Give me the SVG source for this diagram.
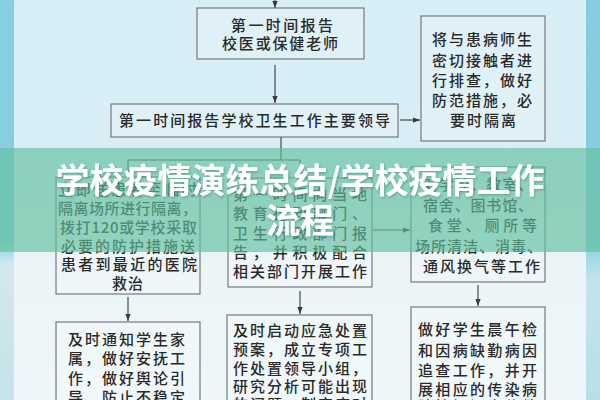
<svg xmlns="http://www.w3.org/2000/svg" width="600" height="400" viewBox="0 0 600 400">
<defs>
<linearGradient id="panel" x1="0" y1="0" x2="0" y2="1">
<stop offset="0" stop-color="#d8eef6"/>
<stop offset="0.38" stop-color="#d9eff6"/>
<stop offset="0.65" stop-color="#ebf5f8"/>
<stop offset="1" stop-color="#eef7f9"/>
</linearGradient>
<linearGradient id="lstrip" x1="0" y1="0" x2="0" y2="1">
<stop offset="0" stop-color="#88cde2"/>
<stop offset="0.6" stop-color="#8acde0"/>
<stop offset="0.66" stop-color="#d2e8ee"/>
<stop offset="1" stop-color="#c6e2ea"/>
</linearGradient>
<linearGradient id="rstrip" x1="0" y1="0" x2="0" y2="1">
<stop offset="0" stop-color="#86cde3"/>
<stop offset="0.6" stop-color="#88cee2"/>
<stop offset="0.7" stop-color="#c4e4ec"/>
<stop offset="1" stop-color="#b8dfe8"/>
</linearGradient>
<marker id="ah" viewBox="0 0 8 8" refX="8" refY="4" markerWidth="7" markerHeight="7" markerUnits="userSpaceOnUse" orient="auto">
<path d="M0,1 L8,4 L0,7 z" fill="#3a3a3a"/>
</marker>
<filter id="sh" x="-5%" y="-20%" width="110%" height="140%">
<feDropShadow dx="1" dy="1.5" stdDeviation="1" flood-color="#1d5a4c" flood-opacity="0.35"/>
</filter>
</defs>
<style>
.box{fill:#ffffff;fill-opacity:0.18;stroke:#6e6e6e;stroke-width:1.1}
.t{font-family:"Noto Sans CJK SC","Noto Sans",sans-serif;font-size:15px;font-weight:500;fill:#2a2a2a}
.c{fill:none;stroke:#3a3a3a;stroke-width:1.1}
.ttl{font-family:"Noto Sans CJK SC","Noto Sans",sans-serif;font-size:34px;font-weight:bold;fill:#ffffff}
</style>
<rect x="0" y="0" width="600" height="400" fill="url(#panel)"/>
<rect x="0" y="0" width="14" height="400" fill="url(#lstrip)"/>
<rect x="586" y="0" width="14" height="400" fill="url(#rstrip)"/>

<g id="connectors">
<path class="c" d="M275,0 L275,8" marker-end="url(#ah)"/>
<path class="c" d="M275,65 L275,103" marker-end="url(#ah)"/>
<path class="c" d="M400,120 L420,120" marker-end="url(#ah)"/>
<path class="c" d="M281,137 L281,160 M128,160 L300,160"/>
<path class="c" d="M128,160 L128,177" marker-end="url(#ah)"/>
<path class="c" d="M300,160 L300,177" marker-end="url(#ah)"/>
<path class="c" d="M373,230 L410,230" marker-end="url(#ah)"/>
<path class="c" d="M128,297 L128,321" marker-end="url(#ah)"/>
<path class="c" d="M300,291 L300,314" marker-end="url(#ah)"/>
<path class="c" d="M478,285 L478,306" marker-end="url(#ah)"/>
</g>

<g id="node-report-doctor">
<rect class="box" x="197" y="8" width="167" height="51"/>
<text class="t" x="231" y="30.5" textLength="102" lengthAdjust="spacing">第一时间报告</text>
<text class="t" x="222" y="48.5" textLength="116" lengthAdjust="spacing">校医或保健老师</text>
</g>

<g id="node-report-leader">
<rect class="box" x="111" y="104" width="287" height="33"/>
<text class="t" x="119" y="125.5" textLength="271" lengthAdjust="spacing">第一时间报告学校卫生工作主要领导</text>
</g>

<g id="node-contacts">
<rect class="box" x="421" y="16" width="124" height="125"/>
<text class="t" x="432" y="44.5" textLength="100" lengthAdjust="spacing">将与患病师生</text>
<text class="t" x="432" y="65.5" textLength="100" lengthAdjust="spacing">密切接触者进</text>
<text class="t" x="432" y="85.5" textLength="100" lengthAdjust="spacing">行排查，做好</text>
<text class="t" x="432" y="105.5" textLength="100" lengthAdjust="spacing">防范措施，必</text>
<text class="t" x="450" y="125.5" textLength="66" lengthAdjust="spacing">要时隔离</text>
</g>

<g id="node-isolate">
<rect class="box" x="56" y="177" width="144" height="117"/>
<text class="t" x="58" y="194.5" textLength="139" lengthAdjust="spacing">立即送患者至临时</text>
<text class="t" x="58" y="213.5" textLength="139" lengthAdjust="spacing">隔离场所进行隔离，</text>
<text class="t" x="60" y="232.5" textLength="137" lengthAdjust="spacing">拨打120或学校采取</text>
<text class="t" x="61" y="251.5" textLength="134" lengthAdjust="spacing">必要的防护措施送</text>
<text class="t" x="61" y="269.5" textLength="136" lengthAdjust="spacing">患者到最近的医院</text>
<text class="t" x="112" y="288.5" textLength="31" lengthAdjust="spacing">救治</text>
</g>

<g id="node-report-authority">
<rect class="box" x="228" y="178" width="144" height="109"/>
<text class="t" x="233" y="199.5" textLength="134" lengthAdjust="spacing">第一时间向当地</text>
<text class="t" x="233" y="218.5" textLength="134" lengthAdjust="spacing">教育行政部门、</text>
<text class="t" x="233" y="238.5" textLength="134" lengthAdjust="spacing">卫生行政部门报</text>
<text class="t" x="233" y="257.5" textLength="134" lengthAdjust="spacing">告，并积极配合</text>
<text class="t" x="233" y="276.5" textLength="134" lengthAdjust="spacing">相关部门开展工作</text>
</g>

<g id="node-disinfect">
<rect class="box" x="411" y="167" width="134" height="115"/>
<text class="t" x="423" y="189.5" textLength="110" lengthAdjust="spacing">对学校、教室、</text>
<text class="t" x="423" y="210.5" textLength="110" lengthAdjust="spacing">宿舍、图书馆、</text>
<text class="t" x="428" y="230.5" textLength="109" lengthAdjust="spacing">食堂、厕所等</text>
<text class="t" x="415" y="251.5" textLength="127" lengthAdjust="spacing">场所清洁、消毒、</text>
<text class="t" x="423" y="271.5" textLength="117" lengthAdjust="spacing">通风换气等工作</text>
</g>

<g id="node-notify-family">
<rect class="box" x="56" y="322" width="144" height="100"/>
<text class="t" x="68" y="344.5" textLength="117" lengthAdjust="spacing">及时通知学生家</text>
<text class="t" x="68" y="364" textLength="117" lengthAdjust="spacing">属，做好安抚工</text>
<text class="t" x="68" y="383.5" textLength="117" lengthAdjust="spacing">作，做好舆论引</text>
<text class="t" x="68" y="403" textLength="117" lengthAdjust="spacing">导，防止不稳定</text>
</g>

<g id="node-emergency-plan">
<rect class="box" x="227" y="315" width="145" height="100"/>
<text class="t" x="233" y="335.5" textLength="134" lengthAdjust="spacing">及时启动应急处置</text>
<text class="t" x="233" y="354.5" textLength="134" lengthAdjust="spacing">预案，成立专项工</text>
<text class="t" x="233" y="373.5" textLength="134" lengthAdjust="spacing">作处置领导小组，</text>
<text class="t" x="233" y="392" textLength="134" lengthAdjust="spacing">研究分析可能出现</text>
<text class="t" x="233" y="410" textLength="134" lengthAdjust="spacing">的问题，制定应对</text>
</g>

<g id="node-morning-check">
<rect class="box" x="411" y="307" width="134" height="110"/>
<text class="t" x="418" y="335" textLength="119" lengthAdjust="spacing">做好学生晨午检</text>
<text class="t" x="418" y="355.5" textLength="119" lengthAdjust="spacing">和因病缺勤病因</text>
<text class="t" x="418" y="375.5" textLength="119" lengthAdjust="spacing">追查工作，并开</text>
<text class="t" x="418" y="395" textLength="119" lengthAdjust="spacing">展相应的传染病</text>
<text class="t" x="418" y="412" textLength="119" lengthAdjust="spacing">防控知识宣传教</text>
</g>

<g id="banner">
<rect x="0" y="148" width="600" height="104" fill="#62c0a0" fill-opacity="0.66"/>
<g filter="url(#sh)">
<text class="ttl" x="300" y="193" text-anchor="middle">学校疫情演练总结/学校疫情工作</text>
<text class="ttl" x="300" y="233" text-anchor="middle">流程</text>
</g>
</g>
</svg>
